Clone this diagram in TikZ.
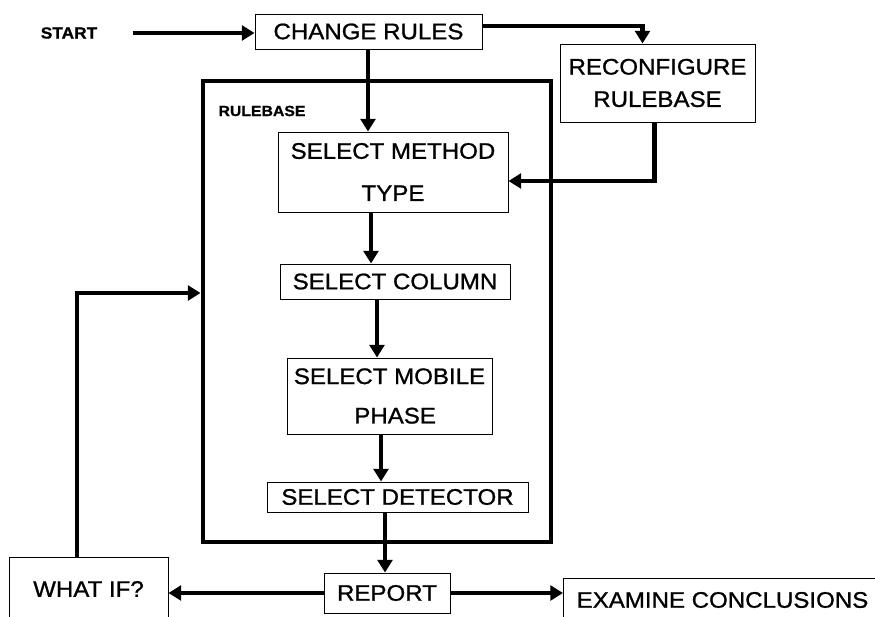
\documentclass[tikz,border=0pt]{standalone}
\usepackage{fontspec}
\setmainfont{Liberation Sans}
\newfontfamily\boxfont[FakeStretch=1.07,FakeBold=1]{Liberation Sans}
\usetikzlibrary{calc,arrows.meta}
\def\px{0.025cm}
\tikzset{
  boxsize/.style 2 args={minimum width=#1*\px, minimum height=#2*\px},
  stepbox/.style={draw, line width=0.7pt, inner sep=0pt, align=center,
    font=\boxfont\fontsize{16}{19}\selectfont},
  tag/.style={font=\boxfont\bfseries\fontsize{11.5}{13}\selectfont},
  frame/.style={draw, line width=3.5pt, inner sep=0pt},
  flow/.style={line width=3.1pt, -{Triangle[length=9pt,width=10.5pt]}},
}

\begin{document}
\begin{tikzpicture}[x=\px, y=-\px]
  \useasboundingbox (0,0) rectangle (875,617);
  \coordinate (a1) at (368,0);
  \coordinate (a2) at (371,0);
  \coordinate (a3) at (377,0);
  \coordinate (a4) at (381,0);
  \coordinate (a5) at (385,0);
  \coordinate (loopx) at (77,0);
  \coordinate (loopy) at (0,293);

  \node[frame, boxsize={348}{461}] (rulebase) at (377,311.5) {};
  \node[tag, font=\boxfont\bfseries\fontsize{10.5}{12}\selectfont] (rblabel) at (262,111) {RULEBASE};

  \node[tag] (start) at (69,33) {START};
  \node[stepbox, boxsize={227}{35}] (change) at (368.5,31.5) {CHANGE RULES};
  \node[stepbox, boxsize={195}{78}] (reconf) at (657.5,83) {RECONFIGURE\\[4pt]RULEBASE};
  \node[stepbox, boxsize={230}{80}] (method) at (393,172) {SELECT METHOD\\[11pt]TYPE};
  \node[stepbox, boxsize={230}{35}] (column) at (395,281.5) {SELECT COLUMN};
  \node[stepbox, boxsize={205}{76}] (mobile) at (389.5,396) {SELECT MOBILE\\[9pt]\hspace*{8pt}PHASE};
  \node[stepbox, boxsize={261}{30}] (detector) at (397.5,497) {SELECT DETECTOR};
  \node[stepbox, boxsize={126}{40}] (report) at (387,593) {REPORT};
  \node[stepbox, boxsize={159}{64}] (whatif) at (88.5,589) {WHAT IF?};
  \node[stepbox, boxsize={318}{44}, anchor=west] (examine) at (563,600) {EXAMINE CONCLUSIONS};

  \draw[flow, shorten <=22pt] (start.east) -- (start.east -| change.west);
  \draw[flow] ($(change.north east)!0.35!(change.south east)$) -| ($(reconf.north)+(-15,0)$);
  \draw[flow] ($(reconf.south)+(-3,0)$) |- ($(method.east)+(0,9)$);
  \draw[flow] (change.south -| a1) -- (method.north -| a1);
  \draw[flow] (method.south -| a2) -- (column.north -| a2);
  \draw[flow] (column.south -| a3) -- (mobile.north -| a3);
  \draw[flow] (mobile.south -| a4) -- (detector.north -| a4);
  \draw[flow] (detector.south -| a5) -- (report.north -| a5);
  \draw[flow] (report.west) -- (report.west -| whatif.east);
  \draw[flow] (report.east) -- (report.east -| examine.west);
  \draw[flow] (whatif.north -| loopx) |- (rulebase.west |- loopy);
\end{tikzpicture}
\end{document}
